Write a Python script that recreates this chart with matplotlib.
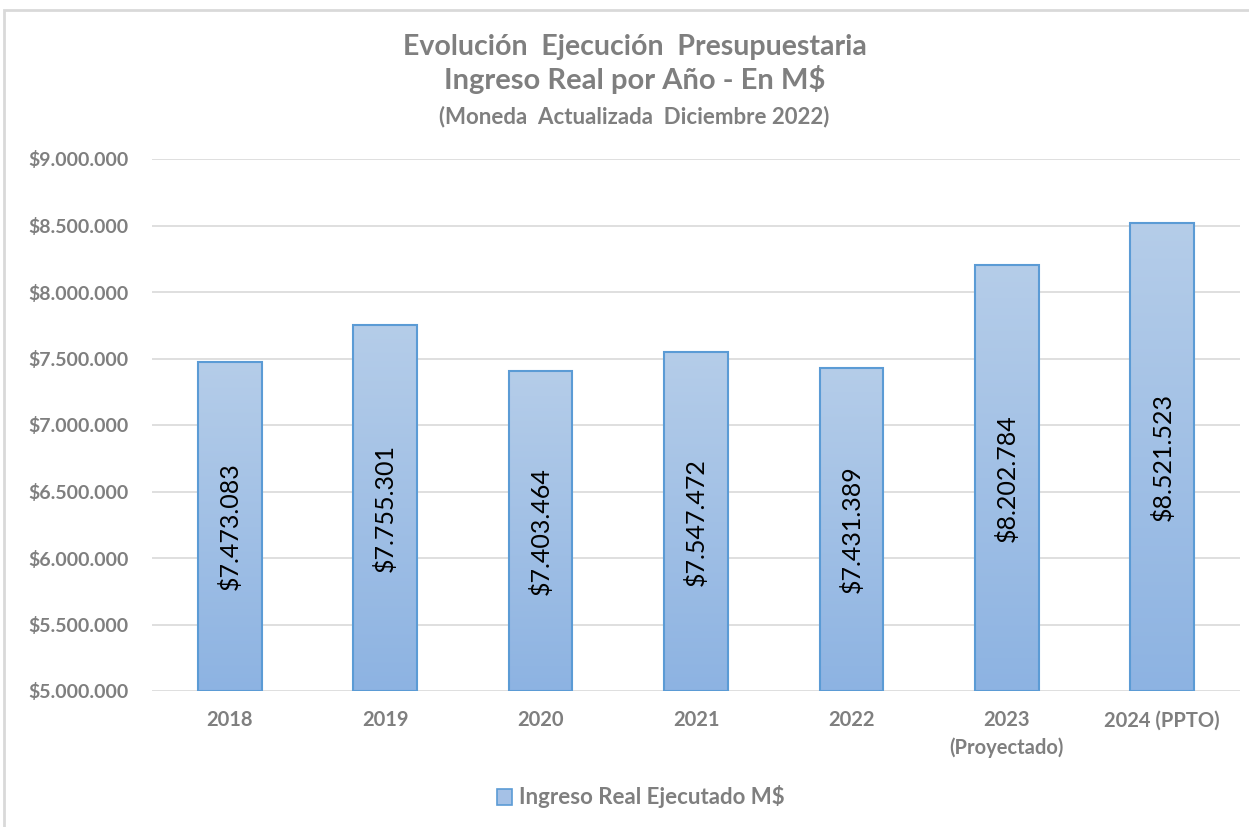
import numpy as np
import matplotlib
matplotlib.use("Agg")
import matplotlib.pyplot as plt
from matplotlib.patches import Rectangle, Patch
from matplotlib.colors import LinearSegmentedColormap
from matplotlib.ticker import FuncFormatter

plt.rcParams['font.family'] = ['Lato', 'DejaVu Sans']

# Ingreso real ejecutado por año (M$, moneda dic-2022)
years = ["2018", "2019", "2020", "2021", "2022", "2023\n(Proyectado)", "2024 (PPTO)"]
ingreso = [7473083, 7755301, 7403464, 7547472, 7431389, 8202784, 8521523]
y_ticks = [5000000, 5500000, 6000000, 6500000, 7000000, 7500000, 8000000, 8500000, 9000000]

def miles(v):
    return f"{int(v):,}".replace(",", ".")

gray_txt = "#7f7f7f"
grid_col = "#d9d9d9"
edge_col = "#5b9bd5"
grad = LinearSegmentedColormap.from_list("barra", ["#8db3e2", "#b5cde9"])

fig = plt.figure(figsize=(12.49, 8.27), dpi=100)
ax = fig.add_axes([152 / 1249, 1 - 691 / 827, (1240 - 152) / 1249, (691 - 159) / 827])

ymin, ymax = y_ticks[0], y_ticks[-1]
x = np.arange(len(years))
width = 0.41
bars = ax.bar(x, [v - ymin for v in ingreso], width, bottom=ymin,
              facecolor="none", edgecolor=edge_col, linewidth=1.5, zorder=3)

# degradado vertical dentro de cada barra
g = np.linspace(0, 1, 256).reshape(-1, 1)
for b, v in zip(bars, ingreso):
    x0 = b.get_x()
    im = ax.imshow(g, cmap=grad, aspect="auto", origin="lower",
                   extent=(x0, x0 + width, ymin, v), zorder=2)
    im.set_clip_path(b)
    ax.text(x0 + width / 2, (ymin + v) / 2, "$" + miles(v), rotation=90,
            ha="center", va="center", fontsize=18, color="black", zorder=4)

ax.set_xlim(-0.5, len(years) - 0.5)
ax.set_ylim(ymin, ymax)
ax.set_yticks(y_ticks)
ax.yaxis.set_major_formatter(FuncFormatter(lambda v, p: "$" + miles(v)))
ax.set_xticks(x)
ax.set_xticklabels(years)
ax.grid(axis="y", color=grid_col, linewidth=1.2, zorder=0)
ax.set_axisbelow(True)
for s in ax.spines.values():
    s.set_visible(False)
ax.tick_params(axis="both", length=0, labelcolor=gray_txt)
ax.tick_params(axis="y", pad=17, labelsize=14)
ax.tick_params(axis="x", pad=14, labelsize=14.5)
for lab in ax.get_xticklabels() + ax.get_yticklabels():
    lab.set_fontweight("bold")
    lab.set_linespacing(1.45)
for lab in ax.get_xticklabels():
    lab.set_va("top")

fig.text(0.508, 1 - 47 / 827, "Evolución  Ejecución  Presupuestaria", ha="center", va="center",
         fontsize=20.5, fontweight="bold", color=gray_txt)
fig.text(0.508, 1 - 79 / 827, "Ingreso Real por Año - En M$", ha="center", va="center",
         fontsize=21, fontweight="bold", color=gray_txt)
fig.text(0.508, 1 - 117 / 827, "(Moneda  Actualizada  Diciembre 2022)", ha="center", va="center",
         fontsize=16, fontweight="bold", color=gray_txt)

handle = Patch(facecolor="#a5c1e6", edgecolor=edge_col, linewidth=1.2)
fig.legend([handle], ["Ingreso Real Ejecutado M$"], loc="center", bbox_to_anchor=(0.513, 1 - 797 / 827),
           frameon=False, handlelength=0.7, handleheight=0.7, handletextpad=0.3,
           prop={"size": 16, "weight": "bold"}, labelcolor=gray_txt)

# marco del área del gráfico
fig.add_artist(Rectangle((4 / 1249, -0.02), 1.1, 1 - 10 / 827 + 0.02, transform=fig.transFigure,
                         fill=False, edgecolor=grid_col, linewidth=2))

fig.savefig("out.png", dpi=100)
